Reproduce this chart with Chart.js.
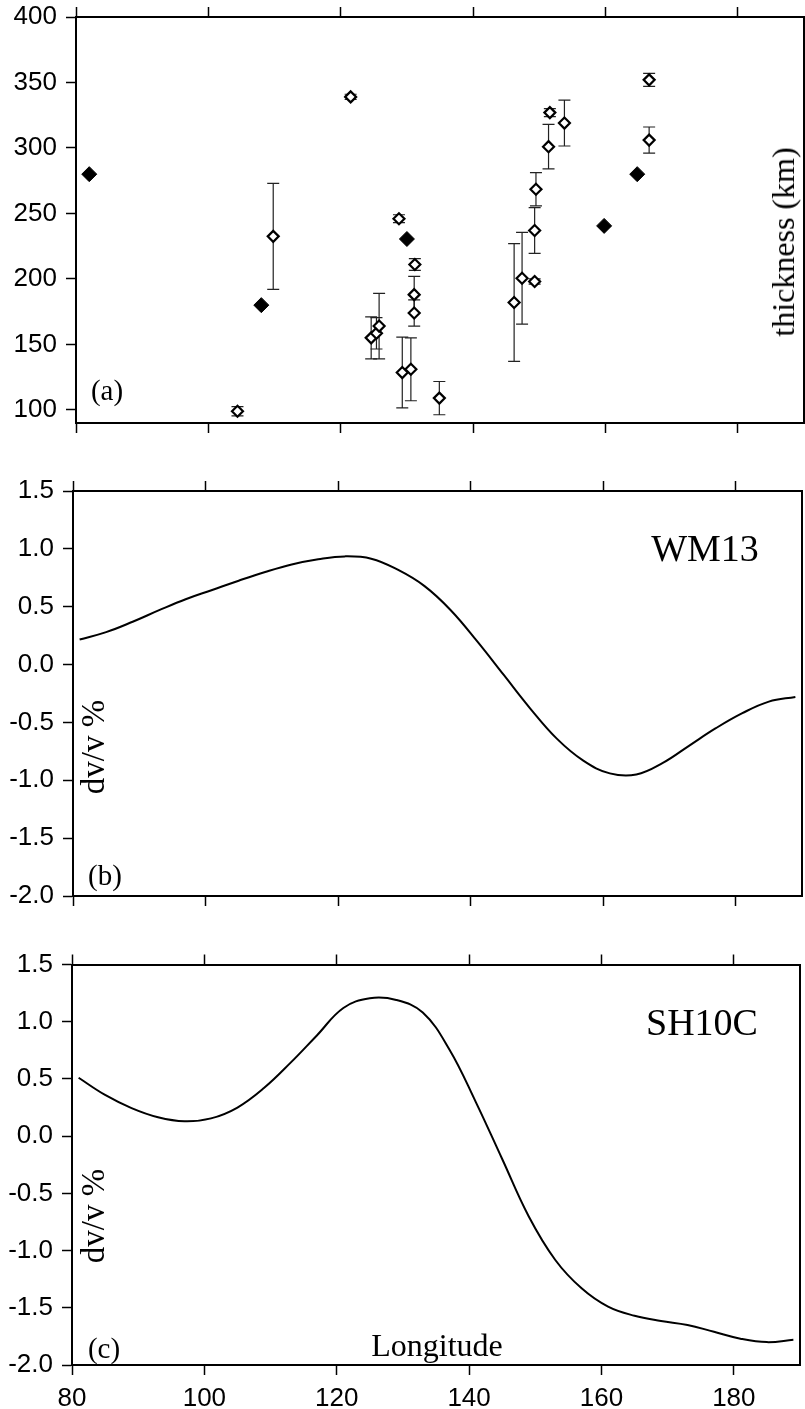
<!DOCTYPE html>
<html>
<head>
<meta charset="utf-8">
<script src="https://cdn.jsdelivr.net/npm/chart.js@4.4.1/dist/chart.umd.min.js"></script>
<style>
  html, body { margin: 0; padding: 0; background: #fff; width: 805px; height: 1409px; overflow: hidden; position: relative; }
  canvas { position: absolute; left: 0; }
  .lbl { position: absolute; font-family: 'Liberation Serif', 'Times New Roman', serif; color: #000; white-space: nowrap; line-height: 1; transform: translate(-50%, -50%); }
  .rot { transform: translate(-50%, -50%) rotate(-90deg); }
</style>
</head>
<body>
<canvas id="chartA" width="805" height="480" style="top:-23px"></canvas>
<canvas id="chartB" width="805" height="480" style="top:450px"></canvas>
<canvas id="chartC" width="805" height="484" style="top:925px"></canvas>

<div class="lbl" style="left:107px; top:390px; font-size:29px;">(a)</div>
<div class="lbl rot" style="left:783px; top:242px; font-size:32px;">thickness (km)</div>
<div class="lbl" style="left:105px; top:875px; font-size:29px;">(b)</div>
<div class="lbl" style="left:705px; top:548px; font-size:38px;">WM13</div>
<div class="lbl rot" style="left:93px; top:747px; font-size:33px;">dv/v %</div>
<div class="lbl" style="left:104px; top:1348px; font-size:29px;">(c)</div>
<div class="lbl" style="left:702px; top:1022px; font-size:38px;">SH10C</div>
<div class="lbl rot" style="left:93px; top:1216px; font-size:33px;">dv/v %</div>
<div class="lbl" style="left:437px; top:1345px; font-size:32px;">Longitude</div>

<script>
// (a) espessura: pontos com barra de erro (abertos) e pontos cheios
const openLon = [104.4, 109.8, 121.5, 124.6, 125.4, 125.8, 128.8, 129.3, 130.6, 131.1, 131.1, 131.2, 134.9,
                 146.2, 147.4, 149.3, 149.3, 149.5, 151.4, 151.6, 153.8, 166.6, 166.6];
const openVal = [99, 232.5, 339, 155, 158.5, 164, 246, 128.5, 131, 174, 188, 211, 109,
                 182, 200.5, 198, 237, 268.5, 301, 327, 319, 352, 306];
const openErr = [3.5, 40.5, 2, 16, 12, 25, 3, 27, 24, 10, 14, 4.5, 12.7,
                 45, 35, 2, 17.5, 12.7, 17, 3, 17.5, 5, 10];
const filledLon = [82, 108, 130, 159.8, 164.8];
const filledVal = [280, 180, 230.5, 240.5, 280];

// (b) modelo WM13 (lido a cada 4 graus)
const wmLon = [81, 85, 89, 93, 97, 101, 105, 109, 113, 117, 121, 125, 129, 133,
               137, 141, 145, 149, 153, 157, 161, 165, 169, 173, 177, 181, 185, 189];
const wmVal = [0.216, 0.28, 0.37, 0.47, 0.565, 0.645, 0.725, 0.80, 0.865, 0.91, 0.935, 0.915, 0.82, 0.68,
               0.47, 0.20, -0.09, -0.38, -0.64, -0.83, -0.94, -0.95, -0.85, -0.70, -0.55, -0.42, -0.32, -0.28];

// (c) modelo SH10C (lido a cada 4 graus)
const shLon = [81, 85, 89, 93, 97, 101, 105, 109, 113, 117, 121, 125, 129, 133,
               137, 141, 145, 149, 153, 157, 161, 165, 169, 173, 177, 181, 185, 189];
const shVal = [0.51, 0.36, 0.245, 0.165, 0.13, 0.155, 0.25, 0.42, 0.64, 0.88, 1.12, 1.205, 1.19, 1.08,
               0.76, 0.30, -0.20, -0.70, -1.08, -1.33, -1.49, -1.57, -1.615, -1.65, -1.71, -1.77, -1.80, -1.78];

const lonTicks = [80, 100, 120, 140, 160, 180];

const tickFont = { family: "'Liberation Sans', Arial, sans-serif", size: 26 };

// Eixos com moldura preta e marcas para fora
function eixos(cfg) {
  const marcas = { display: true, drawOnChartArea: false, drawTicks: true, tickLength: 10, tickColor: '#000', tickWidth: 1.5 };
  const borda = { display: true, color: '#000', width: 2 };
  return {
    x: {
      type: 'linear', position: 'bottom', min: 80, max: 190,
      grid: marcas, border: borda,
      afterBuildTicks: s => { s.ticks = lonTicks.map(v => ({ value: v })); },
      ticks: { display: cfg.xLabels, color: '#000', font: tickFont, padding: 8, maxRotation: 0 },
      afterFit: s => { s.height = cfg.xHeight; }
    },
    x2: {
      type: 'linear', position: 'top', min: 80, max: 190,
      grid: marcas, border: borda,
      afterBuildTicks: s => { s.ticks = lonTicks.map(v => ({ value: v })); },
      ticks: { display: false },
      afterFit: s => { s.height = 10; }
    },
    y: {
      type: 'linear', position: 'left', min: cfg.ymin, max: cfg.ymax,
      grid: marcas, border: borda,
      ticks: { stepSize: cfg.ystep, includeBounds: false, color: '#000', font: tickFont, padding: 9, callback: cfg.fmt },
      afterFit: s => { s.width = cfg.yWidth; }
    },
    y2: {
      type: 'linear', position: 'right', min: cfg.ymin, max: cfg.ymax,
      grid: { display: false }, border: borda,
      ticks: { display: false },
      afterFit: s => { s.width = 0; }
    }
  };
}

// Barras de erro desenhadas antes dos marcadores
const barrasErro = {
  id: 'barrasErro',
  beforeDatasetsDraw(chart) {
    const { ctx, scales: { x, y } } = chart;
    ctx.save();
    ctx.strokeStyle = '#222';
    ctx.lineWidth = 1.2;
    openLon.forEach((lon, i) => {
      if (!openErr[i]) return;
      const px = x.getPixelForValue(lon);
      const top = y.getPixelForValue(openVal[i] + openErr[i]);
      const bot = y.getPixelForValue(openVal[i] - openErr[i]);
      ctx.beginPath();
      ctx.moveTo(px, top); ctx.lineTo(px, bot);
      ctx.moveTo(px - 6, top); ctx.lineTo(px + 6, top);
      ctx.moveTo(px - 6, bot); ctx.lineTo(px + 6, bot);
      ctx.stroke();
    });
    ctx.restore();
  }
};

const baseOpts = {
  responsive: false,
  animation: false,
  devicePixelRatio: 1,
  plugins: { legend: { display: false }, tooltip: { enabled: false } }
};

// Painel (a)
new Chart(document.getElementById('chartA'), {
  type: 'scatter',
  data: {
    datasets: [
      {
        data: openLon.map((v, i) => ({ x: v, y: openVal[i] })),
        pointStyle: 'rectRot', pointRadius: 5.5, pointBorderWidth: 2.2,
        pointBorderColor: '#000', pointBackgroundColor: '#fff'
      },
      {
        data: filledLon.map((v, i) => ({ x: v, y: filledVal[i] })),
        pointStyle: 'rectRot', pointRadius: 7.5, pointBorderWidth: 1,
        pointBorderColor: '#000', pointBackgroundColor: '#000'
      }
    ]
  },
  options: Object.assign({}, baseOpts, {
    layout: { autoPadding: false, padding: { left: 0, right: 1, top: 30, bottom: 24 } },
    scales: eixos({ xLabels: false, xHeight: 10, ymin: 90, ymax: 400, ystep: 50, yWidth: 76, fmt: v => v })
  }),
  plugins: [barrasErro]
});

// Curvas (b) e (c)
function curva(id, lon, val, pad, xLabels, xHeight, yWidth) {
  new Chart(document.getElementById(id), {
    type: 'scatter',
    data: {
      datasets: [{
        data: lon.map((v, i) => ({ x: v, y: val[i] })),
        showLine: true, borderColor: '#000', borderWidth: 2,
        pointRadius: 0, tension: 0.4
      }]
    },
    options: Object.assign({}, baseOpts, {
      layout: { autoPadding: false, padding: pad },
      scales: eixos({ xLabels: xLabels, xHeight: xHeight, ymin: -2, ymax: 1.5, ystep: 0.5, yWidth: yWidth, fmt: v => v.toFixed(1) })
    })
  });
}

curva('chartB', wmLon, wmVal, { left: 0, right: 3, top: 31, bottom: 24 }, false, 10, 73);
curva('chartC', shLon, shVal, { left: 0, right: 5, top: 29.5, bottom: 0 }, true, 44, 72);
</script>
</body>
</html>
